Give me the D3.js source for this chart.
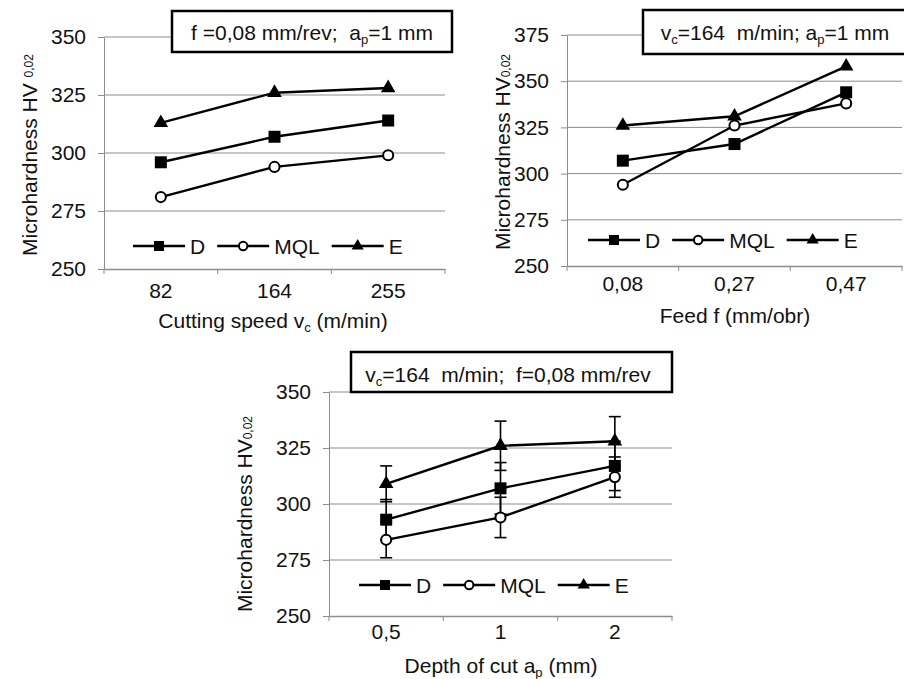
<!DOCTYPE html>
<html>
<head>
<meta charset="utf-8">
<script src="https://cdn.jsdelivr.net/npm/d3@7.9.0/dist/d3.min.js"></script>
<style>
  body { margin: 0; background: #fff; }
  svg { display: block; font-family: 'Liberation Sans', Arial, sans-serif; }
  text { white-space: pre; }
</style>
</head>
<body>
<script>
const seriesNames = ['D', 'MQL', 'E'];

const speedLabels = ['82', '164', '255'];
const speedD = [296, 307, 314];
const speedMQL = [281, 294, 299];
const speedE = [313, 326, 328];

const feedLabels = ['0,08', '0,27', '0,47'];
const feedD = [307, 316, 344];
const feedMQL = [294, 326, 338];
const feedE = [326, 331, 358];

const depthLabels = ['0,5', '1', '2'];
const depthD = [293, 307, 317];
const depthMQL = [284, 294, 312];
const depthE = [309, 326, 328];
const depthErrD = [9, 11.5, 11];
const depthErrMQL = [8, 9, 9];
const depthErrE = [8, 11, 11];

const yTicksLow = [250, 275, 300, 325, 350];
const yTicksHigh = [250, 275, 300, 325, 350, 375];

const gridColor = '#8c8c8c';
const ink = '#111';

const svg = d3.select('body').append('svg')
    .attr('width', 904)
    .attr('height', 679);

svg.append('rect').attr('width', 904).attr('height', 679).attr('fill', '#fff');

const markerType = { D: d3.symbolSquare, MQL: d3.symbolCircle, E: d3.symbolTriangle };
const markerSize = { D: 144, MQL: 80, E: 92 };

function drawMarker(g, name, x, y, scale) {
    g.append('path')
        .attr('d', d3.symbol().type(markerType[name]).size(markerSize[name] * scale)())
        .attr('transform', `translate(${x},${y})`)
        .attr('fill', name === 'MQL' ? '#fff' : '#000')
        .attr('stroke', name === 'MQL' ? '#000' : 'none')
        .attr('stroke-width', 2);
}

// text with subscripts: parts are [string, isSub]
function richText(textSel, parts, subSize, subDy) {
    let shift = 0;
    parts.forEach(([str, isSub]) => {
        let want = isSub ? subDy : 0;
        textSel.append('tspan')
            .attr('dy', want - shift)
            .attr('font-size', isSub ? subSize : null)
            .text(str);
        shift = want;
    });
}

function drawPanel(p) {
    const g = svg.append('g');
    const x = d3.scaleBand().domain(p.labels).range([p.left, p.right]);
    const y = d3.scaleLinear().domain(d3.extent(p.yTicks)).range([p.bottom, p.top]);
    const cx = (label) => x(label) + x.bandwidth() / 2;

    g.selectAll('.grid')
        .data(p.yTicks.slice(1))
        .join('line')
        .attr('x1', p.left).attr('x2', p.right)
        .attr('y1', (d) => y(d)).attr('y2', (d) => y(d))
        .attr('stroke', gridColor);

    let yAxis = g.append('g')
        .attr('transform', `translate(${p.left},0)`)
        .attr('font-family', null).attr('font-size', null)
        .call(d3.axisLeft(y).tickValues(p.yTicks).tickSize(6).tickSizeOuter(0).tickPadding(12));
    yAxis.select('.domain').attr('stroke', gridColor);
    yAxis.selectAll('.tick line').attr('stroke', gridColor);
    yAxis.selectAll('text').attr('font-size', 21).attr('fill', ink);

    let xAxis = g.append('g')
        .attr('transform', `translate(0,${p.bottom})`)
        .attr('font-family', null).attr('font-size', null)
        .call(d3.axisBottom(x).tickSize(0).tickSizeOuter(0).tickPadding(p.xPad));
    xAxis.select('.domain').attr('stroke', gridColor).attr('stroke-width', 1.6);
    xAxis.selectAll('text').attr('font-size', 21).attr('fill', ink);

    g.selectAll('.xtick')
        .data(d3.range(p.labels.length + 1))
        .join('line')
        .attr('x1', (i) => p.left + i * x.step()).attr('x2', (i) => p.left + i * x.step())
        .attr('y1', p.bottom).attr('y2', p.bottom + 5)
        .attr('stroke', gridColor);

    // axis titles
    let xt = g.append('text')
        .attr('x', p.xTitlePos[0]).attr('y', p.xTitlePos[1])
        .attr('text-anchor', 'middle').attr('font-size', 21).attr('fill', ink);
    richText(xt, p.xTitle, 13, 4);

    let yt = g.append('text')
        .attr('transform', `translate(${p.yTitlePos[0]},${p.yTitlePos[1]}) rotate(-90)`)
        .attr('text-anchor', 'middle').attr('font-size', 21).attr('fill', ink);
    richText(yt, p.yTitle, 12, p.yTitleSubDy);

    // series lines
    const line = d3.line().x((d, i) => cx(p.labels[i])).y((d) => y(d));
    p.series.forEach((s) => {
        g.append('path')
            .attr('d', line(s.values))
            .attr('fill', 'none')
            .attr('stroke', '#000')
            .attr('stroke-width', 2.4);
    });

    // error bars
    p.series.filter((s) => s.err).forEach((s) => {
        s.values.forEach((v, i) => {
            let px = cx(p.labels[i]);
            let lo = y(v - s.err[i]);
            let hi = y(v + s.err[i]);
            g.append('line').attr('x1', px).attr('x2', px).attr('y1', lo).attr('y2', hi)
                .attr('stroke', '#000').attr('stroke-width', 1.6);
            [lo, hi].forEach((cy) => {
                g.append('line').attr('x1', px - 6).attr('x2', px + 6).attr('y1', cy).attr('y2', cy)
                    .attr('stroke', '#000').attr('stroke-width', 1.6);
            });
        });
    });

    p.series.forEach((s) => {
        s.values.forEach((v, i) => drawMarker(g, s.name, cx(p.labels[i]), y(v), 1));
    });

    // legend
    let lx = p.legendPos[0];
    let ly = p.legendPos[1];
    seriesNames.forEach((name) => {
        g.append('line').attr('x1', lx).attr('x2', lx + 52).attr('y1', ly).attr('y2', ly)
            .attr('stroke', '#000').attr('stroke-width', 2.4);
        drawMarker(g, name, lx + 26, ly, 0.7);
        let t = g.append('text')
            .attr('x', lx + 57).attr('y', ly).attr('dy', '0.36em')
            .attr('font-size', 21).attr('fill', ink)
            .text(name);
        lx += 57 + t.node().getComputedTextLength() + 12;
    });

    // condition box
    g.append('rect')
        .attr('x', p.box[0]).attr('y', p.box[1])
        .attr('width', p.box[2]).attr('height', p.box[3])
        .attr('fill', '#fff').attr('stroke', '#000').attr('stroke-width', 2.5);
    let bt = g.append('text')
        .attr('x', p.boxText[0]).attr('y', p.boxText[1])
        .attr('text-anchor', 'middle').attr('font-size', 21).attr('fill', ink);
    richText(bt, p.title, 13, 4);
}

drawPanel({
    left: 104, right: 445, top: 37, bottom: 269,
    yTicks: yTicksLow, labels: speedLabels, xPad: 14,
    series: [
        { name: 'D', values: speedD },
        { name: 'MQL', values: speedMQL },
        { name: 'E', values: speedE }
    ],
    xTitle: [['Cutting speed v', false], ['c', true], [' (m/min)', false]],
    xTitlePos: [273, 328],
    yTitle: [['Microhardness HV ', false], ['0,02', true]],
    yTitlePos: [37, 155], yTitleSubDy: -4,
    box: [172, 11, 280, 41], boxText: [312, 40],
    title: [['f =0,08 mm/rev;  a', false], ['p', true], ['=1 mm', false]],
    legendPos: [133, 246]
});

drawPanel({
    left: 567, right: 902, top: 35, bottom: 266,
    yTicks: yTicksHigh, labels: feedLabels, xPad: 10,
    series: [
        { name: 'D', values: feedD },
        { name: 'MQL', values: feedMQL },
        { name: 'E', values: feedE }
    ],
    xTitle: [['Feed f (mm/obr)', false]],
    xTitlePos: [735, 323],
    yTitle: [['Microhardness HV', false], ['0,02', true]],
    yTitlePos: [510, 152], yTitleSubDy: 0,
    box: [643, 10, 275, 44], boxText: [775, 40],
    title: [['v', false], ['c', true], ['=164  m/min; a', false], ['p', true], ['=1 mm', false]],
    legendPos: [588, 240]
});

drawPanel({
    left: 329, right: 672, top: 392, bottom: 616,
    yTicks: yTicksLow, labels: depthLabels, xPad: 8,
    series: [
        { name: 'D', values: depthD, err: depthErrD },
        { name: 'MQL', values: depthMQL, err: depthErrMQL },
        { name: 'E', values: depthE, err: depthErrE }
    ],
    xTitle: [['Depth of cut a', false], ['p', true], [' (mm)', false]],
    xTitlePos: [501, 673],
    yTitle: [['Microhardness HV', false], ['0,02', true]],
    yTitlePos: [252, 514], yTitleSubDy: 0,
    box: [351, 352, 321, 40], boxText: [508, 382],
    title: [['v', false], ['c', true], ['=164  m/min;  f=0,08 mm/rev', false]],
    legendPos: [359, 585]
});
</script>
</body>
</html>
